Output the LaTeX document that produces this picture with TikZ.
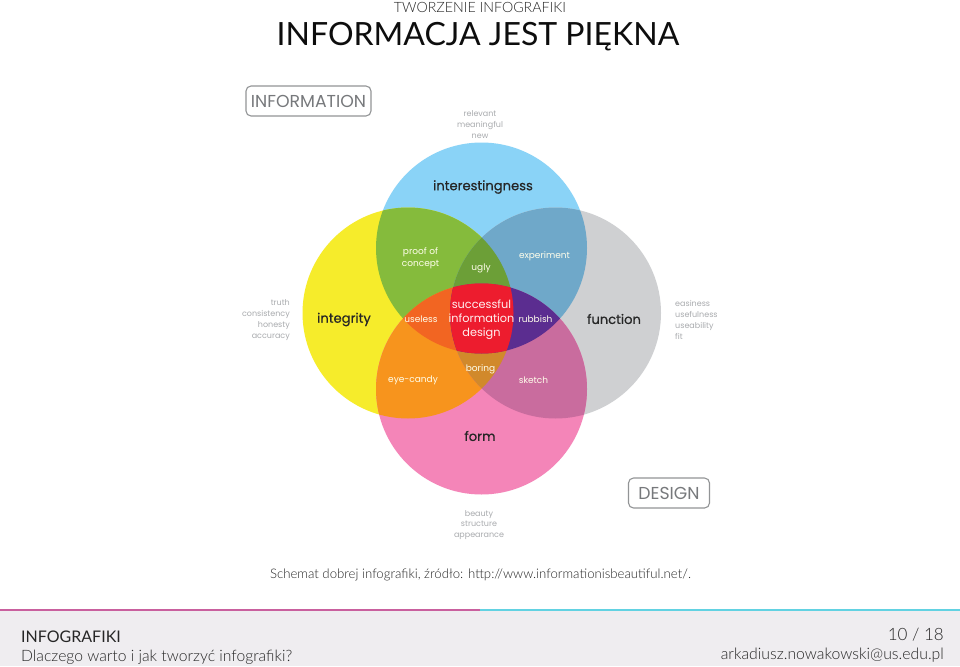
\documentclass[tikz,border=0pt]{standalone}
\usepackage{fontspec}
\setmainfont{Lato}
\newfontfamily\lt{Lato Light}
\newfontfamily\lab{Poppins}
\newfontfamily\labb[FakeBold=0.5]{Poppins}
\definecolor{cblue}{HTML}{8AD3F7}
\definecolor{cyellow}{HTML}{F6EC2B}
\definecolor{cgrey}{HTML}{CFD0D2}
\definecolor{cpink}{HTML}{F485B8}
\definecolor{cBY}{HTML}{85BB3C}
\definecolor{cBG}{HTML}{6FA8C9}
\definecolor{cYP}{HTML}{F7941D}
\definecolor{cGP}{HTML}{C96C9E}
\definecolor{cBYG}{HTML}{6C9F37}
\definecolor{cYGP}{HTML}{D1892B}
\definecolor{cBYP}{HTML}{F26522}
\definecolor{cBGP}{HTML}{5B2D90}
\definecolor{cALL}{HTML}{ED1C2E}
\definecolor{footbg}{HTML}{EFEDF0}
\definecolor{faint}{HTML}{A9ABAE}
\definecolor{boxgrey}{HTML}{77797C}
\definecolor{linecyan}{HTML}{62D2E2}
\definecolor{linepink}{HTML}{C9609E}
\def\CB{(481.5,248) circle[radius=105.5]}
\def\CY{(408,313) circle[radius=105.5]}
\def\CG{(555.5,313) circle[radius=105.5]}
\def\CP{(481.5,389) circle[radius=105.5]}
\tikzset{
  main/.style={font=\labb\fontsize{13.1}{16}\selectfont,text=black!85,inner sep=0pt},
  inner/.style={font=\lab\fontsize{9}{11.5}\selectfont,text=white!92!yellow,inner sep=0pt,align=center},
  centre/.style={font=\lab\fontsize{11.3}{14}\selectfont,text=white!94!red,inner sep=0pt,align=center},
  side/.style={font=\lab\fontsize{8}{10.8}\selectfont,text=faint,inner sep=0pt},
  tagbox/.style={draw=boxgrey!80,line width=1.1pt,rounded corners=5pt,text=boxgrey,inner sep=0pt,font=\lab\fontsize{17.3}{19}\selectfont},
  foot/.style={inner sep=0pt,text=black!85}
}
\begin{document}
\begin{tikzpicture}[x=1pt,y=-1pt]
\useasboundingbox (0,0) rectangle (960,666);
\fill[white] (0,0) rectangle (960,666);
% base circles
\fill[cblue] \CB; \fill[cyellow] \CY; \fill[cgrey] \CG; \fill[cpink] \CP;
% pair overlaps
\begin{scope}\clip \CB; \fill[cBY] \CY; \fill[cBG] \CG; \end{scope}
\begin{scope}\clip \CP; \fill[cYP] \CY; \fill[cGP] \CG; \end{scope}
% triple overlaps
\begin{scope}\clip \CY; \clip \CG; \fill[cBYG] \CB; \fill[cYGP] \CP; \end{scope}
\begin{scope}\clip \CB; \clip \CP; \fill[cBYP] \CY; \fill[cBGP] \CG; \end{scope}
% all four
\begin{scope}\clip \CB; \clip \CP; \clip \CY; \fill[cALL] \CG; \end{scope}
% title
\node[foot,font=\lt\fontsize{14.2}{16}\selectfont,text=black!85] (sup) at (480,7) {TWORZENIE INFOGRAFIKI};
\node[foot,font=\fontsize{32}{34}\selectfont,text=black!95] (ttl) at (478,37) {INFORMACJA JEST PIĘKNA};
% tags
\node[tagbox,minimum width=125pt,minimum height=30pt] (info) at (308.5,101) {INFORMATION};
\node[tagbox,minimum width=81pt,minimum height=30pt] (dsgn) at (669,493) {DESIGN};
% main labels
\node[main] (a) at (483,187) {interestingness};
\node[main] (b) at (344,319.5) {integrity};
\node[main] (c) at (614,319) {function};
\node[main] (d) at (480,436) {form};
% inner labels
\node[inner] (e) at (420.5,258) {proof of\\concept};
\node[inner] (f) at (481,268) {ugly};
\node[inner] (g) at (544.5,256.5) {experiment};
\node[inner] (h) at (421,319) {useless};
\node[inner] (i) at (535.5,319) {rubbish};
\node[inner] (j) at (413,380.5) {eye-candy};
\node[inner] (k) at (480.5,369.5) {boring};
\node[inner] (l) at (533.5,380) {sketch};
\node[centre] (m) at (481.5,320) {successful\\information\\design};
% side lists
\node[side,align=center] (n) at (480,124.5) {relevant\\meaningful\\new};
\node[side,align=right,anchor=east] (o) at (290,320) {truth\\consistency\\honesty\\accuracy};
\node[side,align=left,anchor=west] (p) at (675,320) {easiness\\usefulness\\useability\\fit};
\node[side,align=center] (q) at (479,525) {beauty\\structure\\appearance};
% caption
\node[foot,font=\lt\fontsize{13.2}{14}\selectfont] (cap) at (480.5,575) {Schemat dobrej infografiki, źródło: http://www.informationisbeautiful.net/.};
% footer
\fill[footbg] (0,610) rectangle (960,666);
\fill[linepink] (0,608.5) rectangle (480,610.5);
\fill[linecyan] (480,608.5) rectangle (960,610.5);
\node[foot,anchor=base west,font=\fontsize{16}{18}\selectfont] (t1) at (21,642) {INFOGRAFIKI};
\node[foot,anchor=base west,font=\lt\fontsize{15.7}{18}\selectfont] (t2) at (21,661) {Dlaczego warto i jak tworzyć infografiki?};
\node[foot,anchor=base east,font=\lt\fontsize{17}{18}\selectfont] (t3) at (944,640) {10 / 18};
\node[foot,anchor=base east,font=\lt\fontsize{15.8}{18}\selectfont] (t4) at (944,659) {arkadiusz.nowakowski@us.edu.pl};
\end{tikzpicture}
\end{document}
